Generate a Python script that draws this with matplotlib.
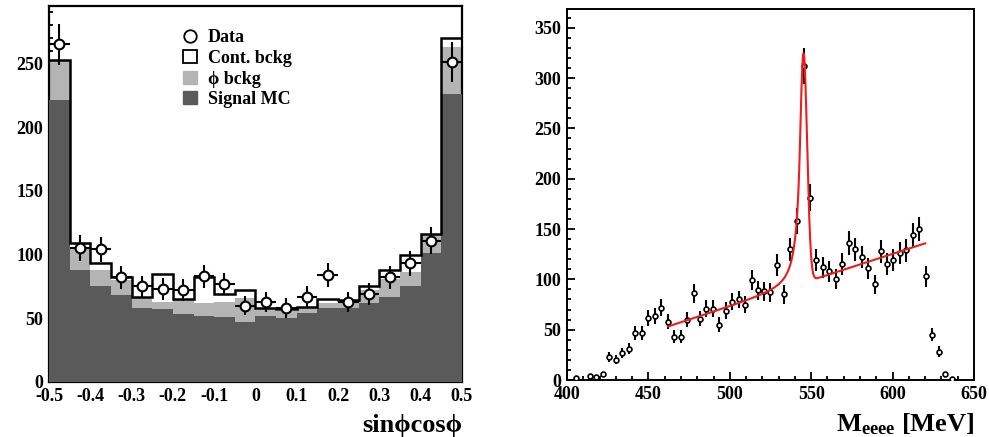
import matplotlib
matplotlib.use("Agg")
import matplotlib.pyplot as plt
import numpy as np
from matplotlib.lines import Line2D
from matplotlib.patches import Patch
from matplotlib.ticker import MultipleLocator, FuncFormatter

# ---- left panel: sin(phi)cos(phi) distribution, 20 bins of 0.05
bin_edges = np.linspace(-0.5, 0.5, 21)
bin_centers = 0.5 * (bin_edges[:-1] + bin_edges[1:])
signal_mc = [221, 88, 75, 68, 58, 57, 53, 52, 51, 47, 52, 50, 54, 58, 58, 62, 67, 75, 101, 226]
phi_bckg = [32, 18, 13, 12, 9, 6, 12, 10, 12, 19, 5, 6, 4, 4, 5, 10, 14, 11, 14, 37]
cont_bckg = [0, 3, 5, 2, 0, 22, 0, 20, 6, 6, 1, 1, 1, 3, 1, 3, 7, 14, 1, 7]
data_left = [265, 105, 104, 82, 75, 73, 72, 83, 77, 60, 63, 58, 67, 84, 63, 69, 82, 93, 111, 251]
data_left_err = [16, 10, 10, 9, 8.5, 8.5, 8.5, 9, 8.8, 7.7, 7.9, 7.6, 8.2, 9.2, 7.9, 8.3, 9, 9.6, 10.5, 16]

# ---- right panel: M_eeee spectrum
mass = [405.5, 414, 418, 422, 426, 430, 434, 438, 442, 446, 450, 454, 458, 462, 466, 470,
        474, 478, 481.5, 485.5, 489.5, 493.5, 497.5, 501.5, 505.5, 509.5, 513.5, 517.5,
        521, 525, 529, 533, 537, 541, 545.3, 549, 553, 557, 561, 565, 569, 573, 577, 581,
        585, 589, 593, 596.5, 600.5, 604.5, 608.5, 612.5, 616.5, 620.5, 624.5, 628.5,
        632.5, 636.5]
counts = [2.3, 4, 2.7, 6, 23, 20, 27, 31, 47, 47, 62, 64, 72, 58, 43, 43,
          60, 86, 61, 71, 71, 55, 69, 78, 80, 75, 99, 89,
          88, 87, 114, 85, 130, 158, 312, 181, 119, 112, 108, 100, 115, 136, 130, 122,
          111, 95, 128, 115, 119, 126, 129, 144, 150, 103, 45, 28,
          5.6, 1]
counts_err = [1.5, 2, 1.6, 2.4, 4.8, 4.5, 5.2, 5.6, 6.9, 6.9, 7.9, 8, 8.5, 7.6, 6.6, 6.6,
              7.7, 9.3, 7.8, 8.4, 8.4, 7.4, 8.3, 8.8, 8.9, 8.7, 9.9, 9.4,
              9.4, 9.3, 10.7, 9.2, 11.4, 12.6, 17.7, 13.5, 10.9, 10.6, 10.4, 10, 10.7, 11.7, 11.4, 11,
              10.5, 9.7, 11.3, 10.7, 10.9, 11.2, 11.4, 12, 12.2, 10.1, 6.7, 5.3,
              2.4, 1]

# fit: Crystal Ball peak on a linear background
fit_lo, fit_hi = 462, 620
peak_m0, peak_sigma, cb_alpha, cb_n, peak_amp = 545.3, 2.2, 1.0, 2.5, 228
bkg_at_lo, bkg_slope = 53, 0.524

DARK = "#5a5a5a"
LIGHT = "#b4b4b4"
FONT = ["Liberation Serif", "DejaVu Serif"]
plt.rcParams["font.family"] = FONT
plt.rcParams["font.weight"] = "bold"
plt.rcParams["mathtext.fontset"] = "custom"
plt.rcParams["mathtext.rm"] = "Liberation Serif:bold"
plt.rcParams["mathtext.it"] = "Liberation Serif:bold"
plt.rcParams["mathtext.bf"] = "Liberation Serif:bold"

fig = plt.figure(figsize=(9.89, 4.37), dpi=100)
ax1 = fig.add_axes([0.0495, 0.1259, 0.4176, 0.8604])
ax2 = fig.add_axes([0.5733, 0.1304, 0.4115, 0.849])


def style_axes(ax, lw):
    for s in ax.spines.values():
        s.set_linewidth(lw)
    ax.tick_params(which="both", direction="in", top=False, right=False,
                   labelsize=13, width=1.3, pad=4)
    ax.tick_params(which="major", length=6)
    ax.tick_params(which="minor", length=3)
    for lab in ax.get_xticklabels() + ax.get_yticklabels():
        lab.set_fontweight("bold")


# ---- left panel
sig = np.array(signal_mc, float)
phi = sig + np.array(phi_bckg, float)
tot = phi + np.array(cont_bckg, float)
ax1.stairs(tot, bin_edges, fill=True, color="white", baseline=0, zorder=1)
ax1.stairs(phi, bin_edges, fill=True, color=LIGHT, baseline=0, zorder=2)
ax1.stairs(sig, bin_edges, fill=True, color=DARK, baseline=0, zorder=3)
ax1.stairs(tot, bin_edges, color="black", lw=1.8, baseline=None, zorder=4)
ax1.errorbar(bin_centers, data_left, xerr=0.025, yerr=data_left_err, fmt="o",
             ms=7, mfc="white", mec="black", mew=1.5, ecolor="black",
             elinewidth=1.5, capsize=0, zorder=5)
ax1.set_xlim(-0.5, 0.5)
ax1.set_ylim(0, 295)
ax1.xaxis.set_major_locator(MultipleLocator(0.1))
ax1.xaxis.set_minor_locator(MultipleLocator(0.02))
ax1.yaxis.set_major_locator(MultipleLocator(50))
ax1.yaxis.set_minor_locator(MultipleLocator(10))
ax1.xaxis.set_major_formatter(FuncFormatter(
    lambda v, p: "0" if abs(v) < 1e-9 else f"{v:.1f}".replace("\u2212", "-")))
style_axes(ax1, 1.6)
ax1.set_xlabel("sin\u03d5cos\u03d5", fontsize=19, fontweight="bold")
ax1.xaxis.set_label_coords(1.0, -0.085)
ax1.xaxis.label.set_horizontalalignment("right")
ax1.xaxis.label.set_verticalalignment("top")

handles = [
    Line2D([], [], marker="o", ls="none", ms=9, mfc="white", mec="black", mew=1.3),
    Patch(fc="white", ec="black", lw=1.3),
    Patch(fc=LIGHT, ec=LIGHT),
    Patch(fc=DARK, ec=DARK),
]
labels = ["Data", "Cont. bckg", "\u03d5 bckg", "Signal MC"]
ax1.legend(handles, labels, loc="upper left", bbox_to_anchor=(0.325, 0.938),
           frameon=False, prop={"family": FONT, "weight": "bold", "size": 13},
           handlelength=0.75, handleheight=0.75, handletextpad=0.6,
           labelspacing=0.2, borderpad=0, borderaxespad=0)

# ---- right panel
ax2.errorbar(mass, counts, yerr=counts_err, fmt="o", ms=3.5, mfc="white",
             mec="black", mew=1.2, ecolor="black", elinewidth=1.5, capsize=0,
             zorder=3)
mfit = np.linspace(fit_lo, fit_hi, 2000)
t = (mfit - peak_m0) / peak_sigma
A = (cb_n / cb_alpha) ** cb_n * np.exp(-cb_alpha ** 2 / 2)
B = cb_n / cb_alpha - cb_alpha
shape = np.where(t > -cb_alpha, np.exp(-t ** 2 / 2),
                 A * np.abs(B - t) ** (-cb_n))
yfit = bkg_at_lo + bkg_slope * (mfit - fit_lo) + peak_amp * shape
ax2.plot(mfit, yfit, color="#ee1c1c", lw=1.5, zorder=4)
ax2.set_xlim(400, 650)
ax2.set_ylim(0, 368.6)
ax2.xaxis.set_major_locator(MultipleLocator(50))
ax2.xaxis.set_minor_locator(MultipleLocator(10))
ax2.yaxis.set_major_locator(MultipleLocator(50))
ax2.yaxis.set_minor_locator(MultipleLocator(10))
style_axes(ax2, 1.4)
ax2.set_xlabel(r"M$_{\mathregular{eeee}}$ [MeV]", fontsize=19, fontweight="bold")
ax2.xaxis.set_label_coords(1.0, -0.085)
ax2.xaxis.label.set_horizontalalignment("right")
ax2.xaxis.label.set_verticalalignment("top")

fig.savefig("out.png", dpi=100)
